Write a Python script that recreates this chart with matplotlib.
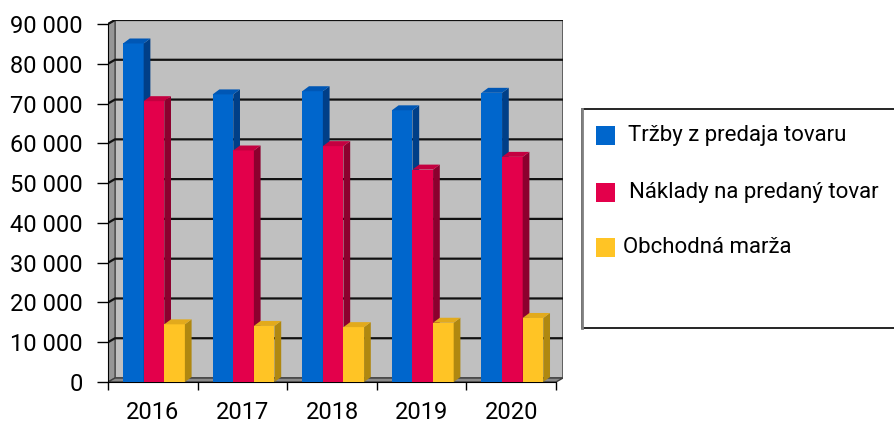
import matplotlib.pyplot as plt
from matplotlib.patches import Polygon, Rectangle
from matplotlib.ticker import FuncFormatter

# data
years = ['2016', '2017', '2018', '2019', '2020']
trzby = [85100, 72300, 73100, 68300, 72700]
naklady = [70600, 58200, 59300, 53400, 56600]
marza = [14500, 14100, 13800, 14900, 16100]
series_names = ['Tržby z predaja tovaru', 'Náklady na predaný tovar', 'Obchodná marža']
yticks = list(range(0, 90001, 10000))

# colours: front, side, top
colors = [('#0066CC', '#003F88', '#0057B5'),
          ('#E3004B', '#8C002E', '#C40040'),
          ('#FFC425', '#B08810', '#E2AA1C')]

plt.rcParams['font.family'] = ['Roboto', 'DejaVu Sans']

W, H = 895, 428
fig = plt.figure(figsize=(W / 100, H / 100), dpi=100)
ax = fig.add_axes([108 / W, 1 - 382 / H, (563 - 108) / W, (382 - 20) / H])

ncat = len(years)
ymax = 90000
wall_dx, wall_dy = 0.078, 1000     # depth of the 3d walls (data units)
bar_dx, bar_dy = 0.075, 1250       # depth of the bars
bw = 0.23                          # bar width
ax.set_xlim(0, ncat + wall_dx)
ax.set_ylim(0, ymax + wall_dy)

# back wall, side wall and floor
ax.add_patch(Rectangle((wall_dx, wall_dy), ncat, ymax, facecolor='#C0C0C0',
                       edgecolor='#505050', lw=1.2, zorder=0))
ax.add_patch(Polygon([(0, 0), (wall_dx, wall_dy), (wall_dx, ymax + wall_dy), (0, ymax)],
                     facecolor='#969696', edgecolor='#505050', lw=1, zorder=0))
ax.add_patch(Polygon([(0, 0), (ncat, 0), (ncat + wall_dx, wall_dy), (wall_dx, wall_dy)],
                     facecolor='#8A8A8A', edgecolor='#404040', lw=1, zorder=0))

# gridlines running over the side wall and back wall
for v in yticks[1:]:
    ax.plot([0, wall_dx, ncat + wall_dx], [v, v + wall_dy, v + wall_dy],
            color='#111111', lw=1.6, zorder=1, solid_capstyle='butt')

# 3d-looking bars
for i, vals in enumerate([trzby, naklady, marza]):
    front, side, top = colors[i]
    xs = [k + 0.168 + i * bw for k in range(ncat)]
    ax.bar(xs, vals, width=bw, align='edge', color=front, zorder=3 + i, lw=0)
    for x, v in zip(xs, vals):
        ax.add_patch(Polygon([(x + bw, 0), (x + bw + bar_dx, bar_dy),
                              (x + bw + bar_dx, v + bar_dy), (x + bw, v)],
                             facecolor=side, lw=0, zorder=3 + i))
        ax.add_patch(Polygon([(x, v), (x + bw, v), (x + bw + bar_dx, v + bar_dy),
                              (x + bar_dx, v + bar_dy)],
                             facecolor=top, lw=0, zorder=3 + i))

# axes
for s in ['top', 'right']:
    ax.spines[s].set_visible(False)
ax.spines['left'].set_bounds(0, ymax)
ax.spines['bottom'].set_bounds(0, ncat)
ax.spines['left'].set_zorder(2)
ax.spines['bottom'].set_zorder(2)

ax.set_yticks(yticks)
ax.yaxis.set_major_formatter(FuncFormatter(lambda v, p: f'{int(v):,}'.replace(',', ' ')))
ax.tick_params(axis='y', length=8, width=1, pad=10, labelsize=17)

ax.set_xticks(range(ncat + 1))
ax.set_xticklabels([])
ax.set_xticks([k + 0.5 for k in range(ncat)], minor=True)
ax.set_xticklabels(years, minor=True)
ax.tick_params(axis='x', which='major', length=6, width=1)
ax.tick_params(axis='x', which='minor', length=0, pad=14, labelsize=17)

# legend box drawn in pixel units
lax = fig.add_axes([0, 0, 1, 1], zorder=10)
lax.set_xlim(0, W)
lax.set_ylim(H, 0)
lax.axis('off')
lax.patch.set_alpha(0)
lax.add_patch(Rectangle((582, 109), 330, 219, facecolor='white',
                        edgecolor='black', lw=1.2))
lax.plot([582.5, 582.5], [109, 328], color='#808080', lw=2)
sq_y = [126, 183, 238]
txt_x = [628, 629, 623]
for i, name in enumerate(series_names):
    lax.add_patch(Rectangle((596, sq_y[i]), 19, 19, facecolor=colors[i][0], lw=0))
    lax.text(txt_x[i], sq_y[i] + 9.5, name, fontsize=16, va='center', ha='left')

fig.savefig('out.png', dpi=100)
